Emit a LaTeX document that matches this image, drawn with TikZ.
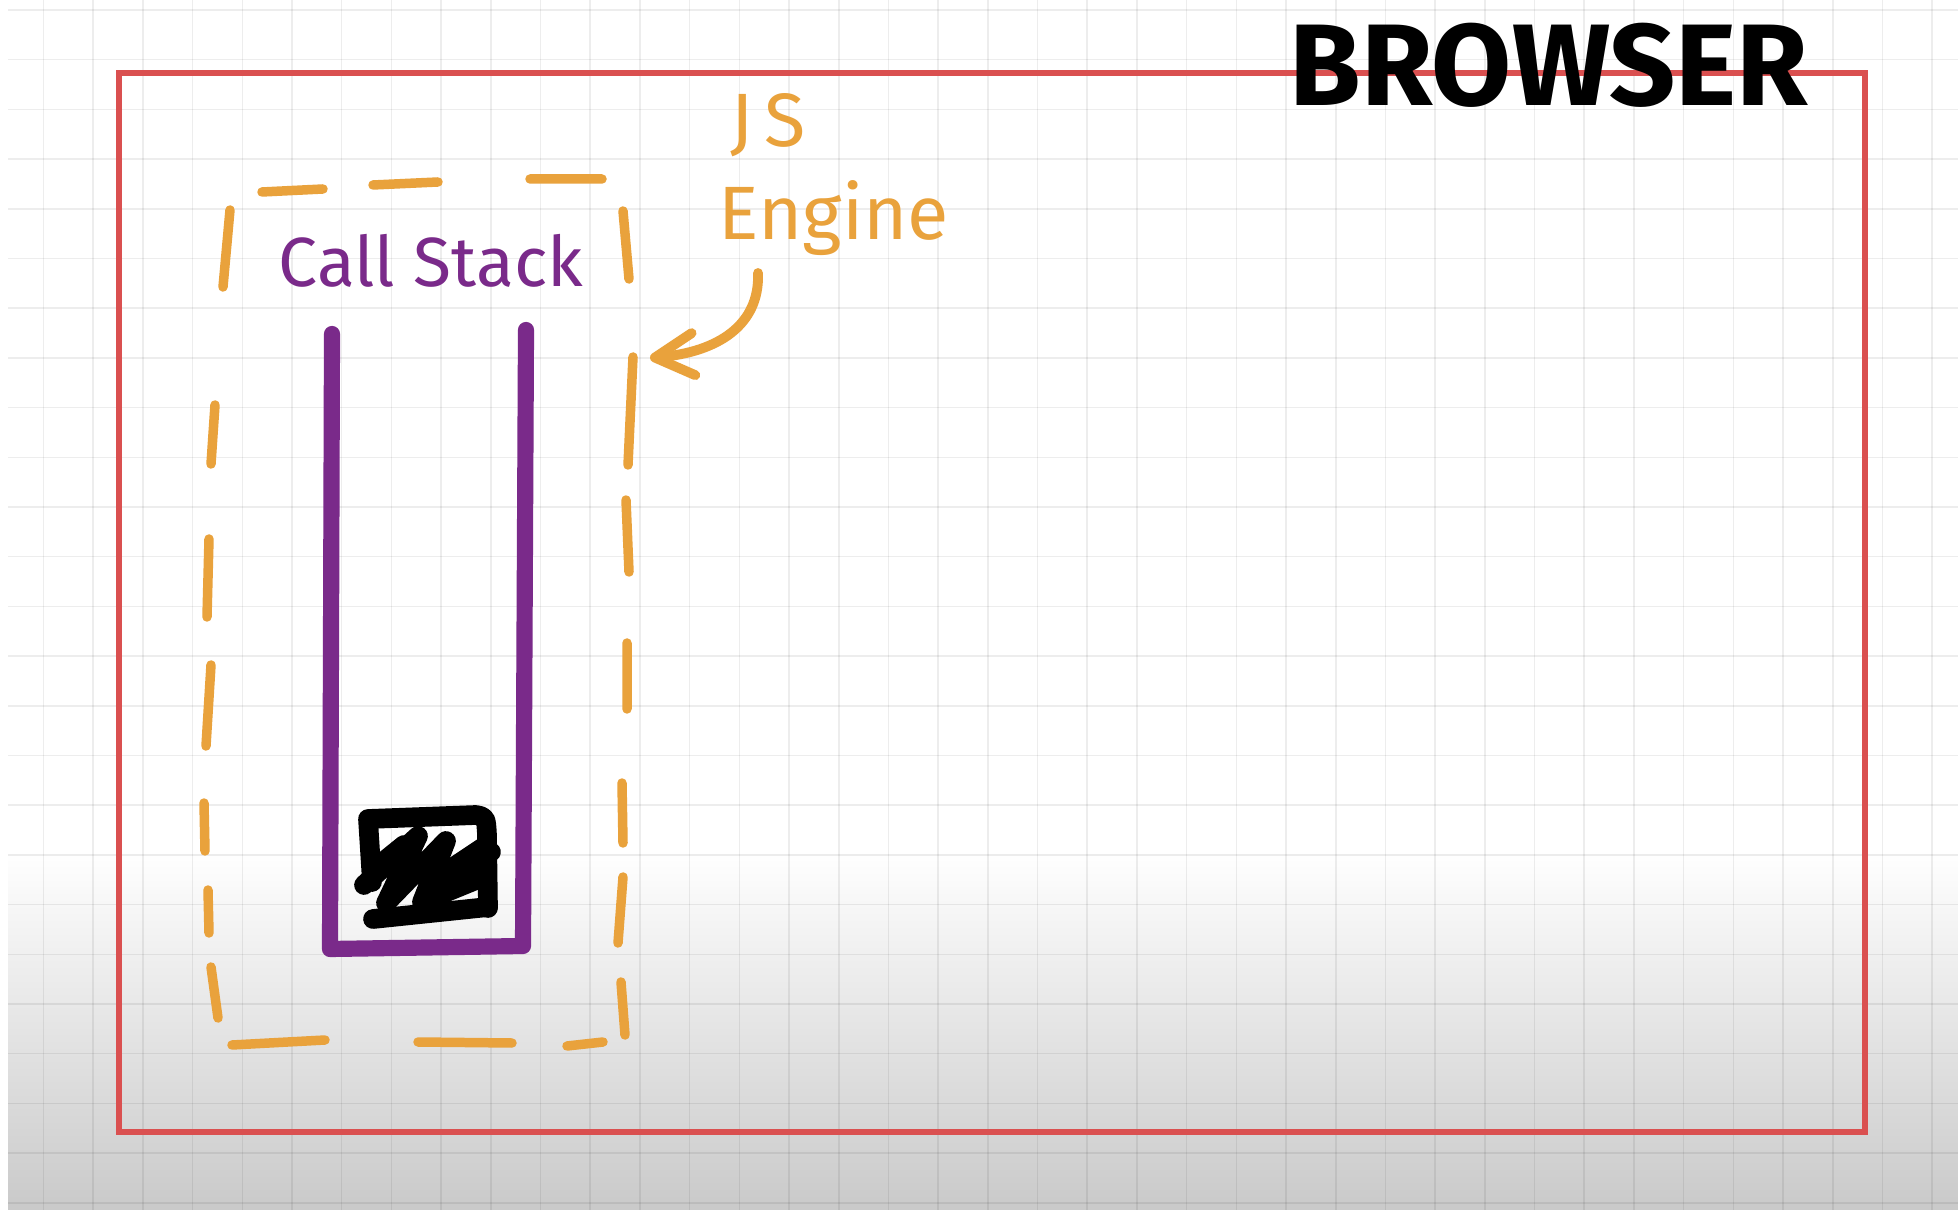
\documentclass[tikz,border=0pt]{standalone}
\usepackage{fontspec}
\setmainfont{Fira Sans}
\usepackage{tikz}
\usetikzlibrary{arrows.meta}
\definecolor{browserred}{RGB}{218,80,80}
\definecolor{engineorange}{RGB}{233,162,60}
\definecolor{stackpurple}{RGB}{122,42,138}

\tikzset{
  gridline/.style={black, opacity=0.07, line width=0.45pt},
  browserline/.style={browserred, line width=1.8pt},
  enginedash/.style={engineorange, line width=2.7pt, line cap=round},
  enginearrow/.style={engineorange, line width=2.8pt, line cap=round,
    -{Straight Barb[length=11pt,width=12pt,round]}},
  stackline/.style={stackpurple, line width=4.6pt, line cap=round, line join=round},
  scribble/.style={black, line width=5.6pt, line cap=round, line join=round},
  browserlabel/.style={inner sep=0pt, text=black, font=\fontsize{33}{36}\selectfont\bfseries},
  enginelabel/.style={inner sep=0pt, text=engineorange, font=\fontsize{21.5}{24}\selectfont},
  stacklabel/.style={inner sep=0pt, text=stackpurple, font=\fontsize{19.8}{24}\selectfont}
}

\begin{document}
\begin{tikzpicture}[x=0.01cm,y=-0.01cm]

      \useasboundingbox (0,0) rectangle (1958,1210);

      % paper
      \fill[white] (0,0) rectangle (1958,1210);
      \shade[top color=white,bottom color=black!21] (8,850) rectangle (1958,1210);
      \foreach \gx in {0,...,38}
        \draw[gridline] ({43.5+49.7*\gx},0) -- ({43.5+49.7*\gx},1210);
      \foreach \gy in {0,...,24}
        \draw[gridline] (8,{10+49.7*\gy}) -- (1958,{10+49.7*\gy});

      % browser
      \draw[browserline] (119,73) rectangle (1865,1132);
      \node[browserlabel] (browser) at (1549,65) {BROWSER};

      % js engine, hand drawn dashes
      \draw[enginedash] (262,192) -- (323,189) (373,185) -- (438,182) (530,179) -- (602,179);
      \draw[enginedash] (230,210) -- (223,287) (215,405) -- (211,464) (209,539) -- (207,617)
        (211,665) -- (206,746) (204,803) -- (205,851) (208,890) -- (209,933) (211,967) -- (218,1018);
      \draw[enginedash] (232,1045) -- (325,1040) (418,1042) -- (512,1043) (567,1046) -- (603,1042);
      \draw[enginedash] (623,211) -- (629,279) (633,357) -- (628,465) (626,500) -- (629,572)
        (627,643) -- (627,709) (622,783) -- (623,843) (623,877) -- (618,943) (621,982) -- (625,1035);

      \node[enginelabel,anchor=base west] (js) at (730,147) {J\kern3pt S};
      \node[enginelabel,anchor=base west] (engine) at (718,240) {Engine};
      \coordinate (tail) at (758,273);
      \coordinate (tip) at (650,358);
      \draw[enginearrow] (tail) .. controls (760,325) and (718,352) .. (tip);

      % call stack
      \node[stacklabel,anchor=base] (stack label) at (431,287) {Call Stack};
      \draw[stackline] (332,334) -- (330,949) -- (523,946) -- (526,330);

      % frame on the stack
      \draw[scribble] (372,882) -- (368,819) -- (476,815) .. controls (486,817) .. (487,835) -- (488,908);
      \draw[scribble] (373,919) -- (488,907);
      \draw[scribble] (364,885) -- (418,836) -- (386,903) -- (446,841) -- (422,902) -- (491,852);
      \draw[scribble] (378,866) -- (404,845) (432,898) -- (476,880) (452,868) -- (482,848);

    \end{tikzpicture}
\end{document}
